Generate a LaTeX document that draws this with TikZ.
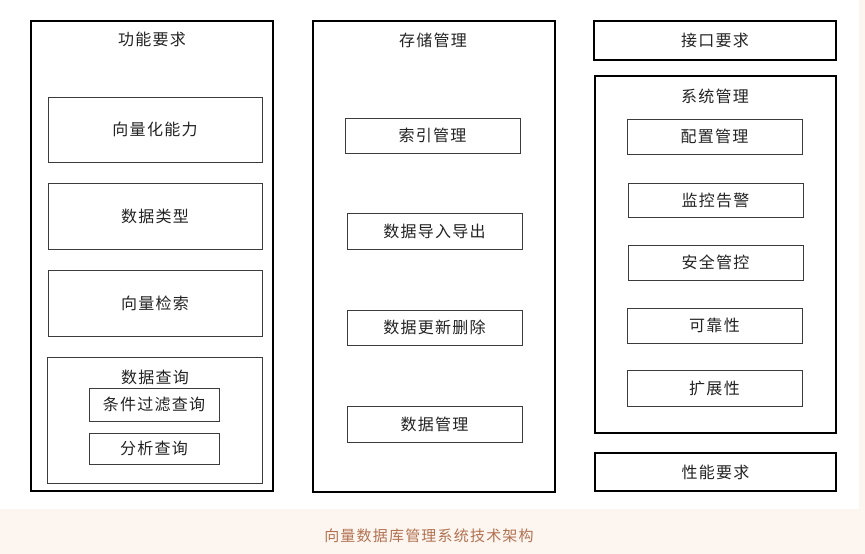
\documentclass[tikz,border=0pt]{standalone}
\usepackage{fontspec}
\newfontfamily\cjk[LetterSpace=8]{Noto Sans CJK SC}
\usetikzlibrary{positioning}
\definecolor{capbg}{RGB}{253,246,240}
\definecolor{capcolor}{RGB}{178,114,82}
\definecolor{itemline}{RGB}{60,60,60}
\definecolor{txtcolor}{RGB}{35,35,35}
\tikzset{
    groupbox/.style={rectangle, draw=black, line width=2.4pt, inner sep=0pt, outer sep=0pt,
        minimum width=242pt, fill=white},
    itembox/.style={rectangle, draw=itemline, line width=1pt, inner sep=0pt, outer sep=0pt,
        minimum width=175pt, minimum height=35pt, fill=white,
        text=txtcolor, font=\cjk\fontsize{16}{18}\selectfont},
    grouptitle/.style={inner sep=0pt, text=txtcolor, font=\cjk\fontsize{16}{18}\selectfont}
}

\begin{document}
\begin{tikzpicture}[x=1pt, y=-1pt, node distance=21pt]

    % page and caption strip
    \fill[capbg] (0,0) rectangle (865,554);
    \fill[white] (0,0) rectangle (859,509);
    \useasboundingbox (0,0) rectangle (865,554);

    % three columns
    \node[groupbox, minimum height=470pt] (func) at (152,256) {};
    \node[groupbox, minimum height=471pt] (store) at (434,256.5) {};
    \node[itembox, draw=black, line width=2.4pt, minimum width=242pt, minimum height=39pt] (iface) at (715,40.5) {接口要求};
    \node[groupbox, minimum width=241pt, minimum height=357pt] (sys) at (715.5,254.5) {};
    \node[itembox, draw=black, line width=2.4pt, minimum width=241pt, minimum height=38pt] (perf) at (715.5,472) {性能要求};

    \node[grouptitle] (functitle) at (152,39) {功能要求};
    \node[grouptitle] (storetitle) at (433,40) {存储管理};
    \node[grouptitle] (systitle) at (715,96) {系统管理};

    % functional requirements
    \node[itembox, minimum width=214pt, minimum height=65pt] (vec) at (155,129.5) {向量化能力};
    \node[itembox, minimum width=214pt, minimum height=66pt, below=of vec] (dtype) {数据类型};
    \node[itembox, minimum width=214pt, minimum height=66pt, below=of dtype] (vsearch) {向量检索};
    \node[itembox, minimum width=215pt, minimum height=126pt, below=of vsearch] (query) {};
    \node[grouptitle] (querytitle) at (155,377) {数据查询};
    \node[itembox, minimum width=130pt, minimum height=33pt] (cond) at (154,404.5) {条件过滤查询};
    \node[itembox, minimum width=130pt, minimum height=31pt] (anal) at (154,448.5) {分析查询};

    % storage management
    \node[itembox] (idx) at (432.5,135.5) {索引管理};
    \node[itembox, minimum height=36pt] (imp) at (434.5,231) {数据导入导出};
    \node[itembox, below=61pt of imp] (upd) {数据更新删除};
    \node[itembox, minimum height=36pt, below=61pt of upd] (dman) {数据管理};

    % system management
    \node[itembox] (cfg) at (714.5,136.5) {配置管理};
    \node[itembox, minimum height=34pt] (mon) at (715.5,200) {监控告警};
    \node[itembox, below=28pt of mon] (sec) {安全管控};
    \node[itembox] (rel) at (714.5,325.5) {可靠性};
    \node[itembox, minimum height=36pt, below=27pt of rel] (ext) {扩展性};

    % caption
    \node[grouptitle, text=capcolor, font=\cjk\fontsize{15}{17}\selectfont] (caption) at (429,536) {向量数据库管理系统技术架构};

\end{tikzpicture}
\end{document}
